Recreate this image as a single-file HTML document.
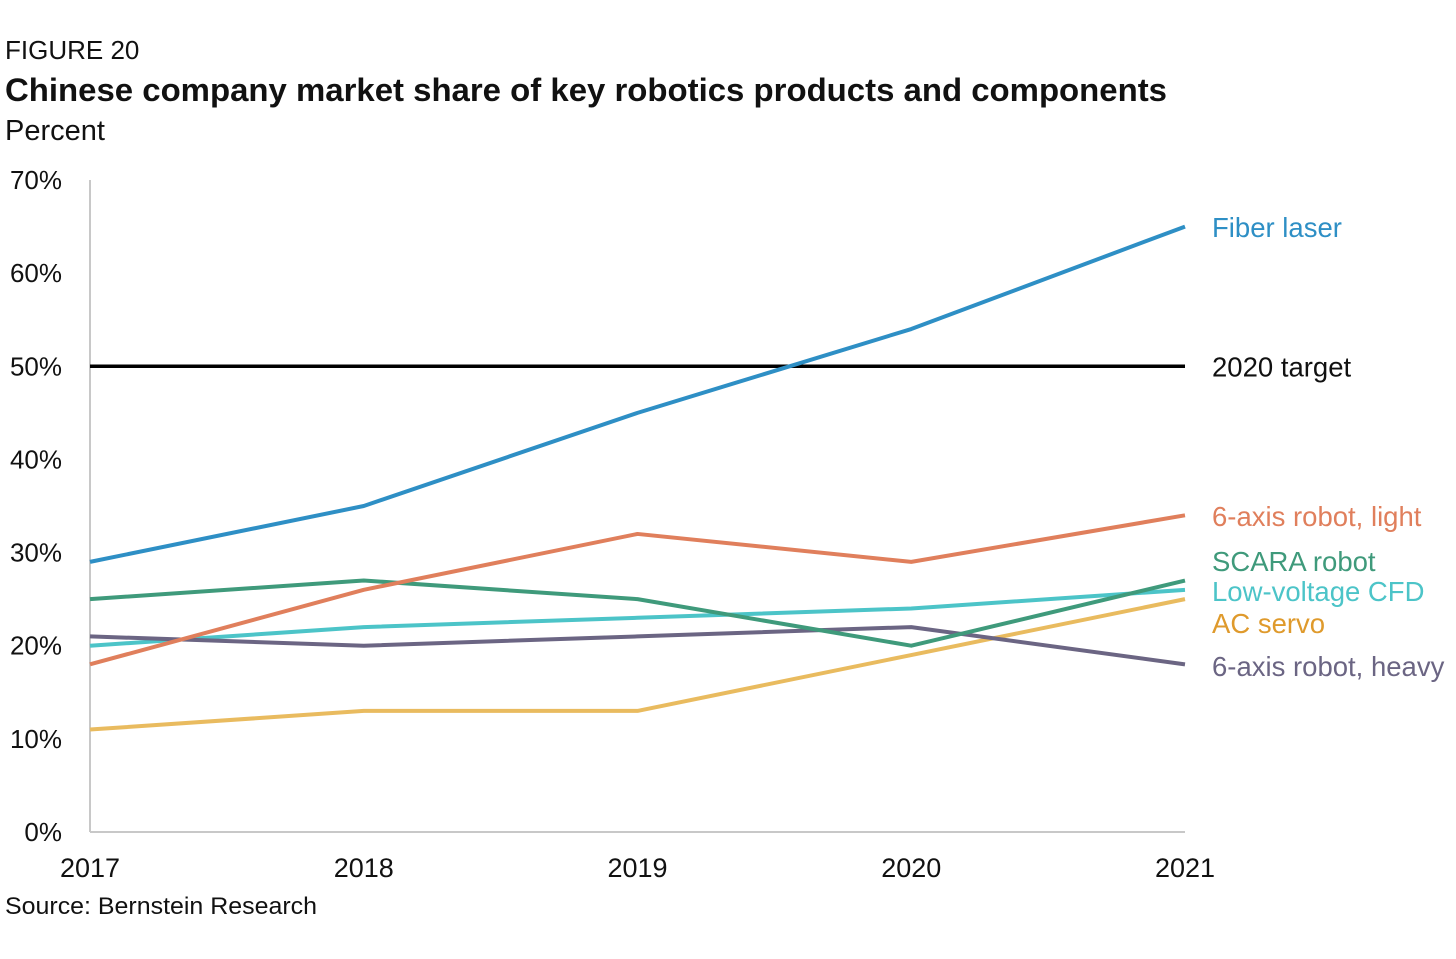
<!DOCTYPE html>
<html><head><meta charset="utf-8"><style>
body{margin:0;background:#fff;width:1456px;height:954px;overflow:hidden;font-family:"Liberation Sans",sans-serif;}
svg text{font-family:"Liberation Sans",sans-serif;}
</style></head><body>
<svg id="chart" width="1456" height="954" xmlns="http://www.w3.org/2000/svg">
<text x="5" y="59" font-size="26" fill="#111">FIGURE 20</text>
<text x="5" y="101" font-size="32" font-weight="bold" fill="#111" textLength="1162" lengthAdjust="spacingAndGlyphs">Chinese company market share of key robotics products and components</text>
<text x="5" y="140" font-size="29" fill="#111">Percent</text>
<text x="5" y="914" font-size="24" fill="#111" textLength="312" lengthAdjust="spacingAndGlyphs">Source: Bernstein Research</text>
<g id="axes"></g>
<g id="series"></g>
</svg>
<script>
const years = [2017, 2018, 2019, 2020, 2021];
const yTicks = [0, 10, 20, 30, 40, 50, 60, 70];
const target = 50;
const fiberLaser = [29, 35, 45, 54, 65];
const axisLight = [18, 26, 32, 29, 34];
const scara = [25, 27, 25, 20, 27];
const cfd = [20, 22, 23, 24, 26];
const acServo = [11, 13, 13, 19, 25];
const axisHeavy = [21, 20, 21, 22, 18];
const seriesNames = ["Fiber laser","6-axis robot, light","SCARA robot","Low-voltage CFD","AC servo","6-axis robot, heavy"];
const seriesValues = [fiberLaser, axisLight, scara, cfd, acServo, axisHeavy];

const NS="http://www.w3.org/2000/svg";
const X0=90,X1=1185,Y0=832,Y70=180;
const x=i=>X0+(X1-X0)*i/(years.length-1);
const y=v=>Y0-(Y0-Y70)*v/70;
function mk(tag,attrs,parent){const e=document.createElementNS(NS,tag);for(const k in attrs)e.setAttribute(k,attrs[k]);parent.appendChild(e);return e;}
const axes=document.getElementById('axes'), ser=document.getElementById('series');

let a=mk('line',{x1:X0,x2:X0,y1:Y70,y2:Y0,stroke:'#c8c8c8','stroke-width':2},axes);


a=mk('line',{x1:X0,x2:X1,y1:Y0,y2:Y0,stroke:'#c8c8c8','stroke-width':2},axes);


yTicks.forEach(t=>{const e=mk('text',{x:62,y:y(t)+9,'font-size':26,fill:'#111','text-anchor':'end'},axes);e.textContent=t+'%';

});
years.forEach((yr,i)=>{const e=mk('text',{x:x(i),y:877,'font-size':27,fill:'#111','text-anchor':'middle'},axes);e.textContent=yr;

});

const t=mk('line',{x1:X0,x2:X1,y1:y(target),y2:y(target),stroke:'#000','stroke-width':3.5},ser);


const tl=mk('text',{x:1212,y:y(target)+10,'font-size':27.5,fill:'#111'},ser);tl.textContent='2020 target';



const colors=['#2e8fc5','#e07f5c','#3f9a7b','#4cc4c8','#e9bb5f','#6b6583'];
const labelColors=['#2e8fc5','#e07f5c','#3f9a7b','#4cc4c8','#df9a2c','#6b6583'];
const labelY=[227,516,561,591,623,666];
const order=[4,3,5,2,1,0];
order.forEach(s=>{const vals=seriesValues[s];
 const p=mk('polyline',{points:vals.map((v,i)=>x(i)+','+y(v)).join(' '),fill:'none',stroke:colors[s],'stroke-width':4,'stroke-linejoin':'round'},ser);
 
 
 const l=mk('text',{x:1212,y:labelY[s]+10,'font-size':27.5,fill:labelColors[s]},ser);l.textContent=seriesNames[s];
 
 
});
</script>
</body></html>
